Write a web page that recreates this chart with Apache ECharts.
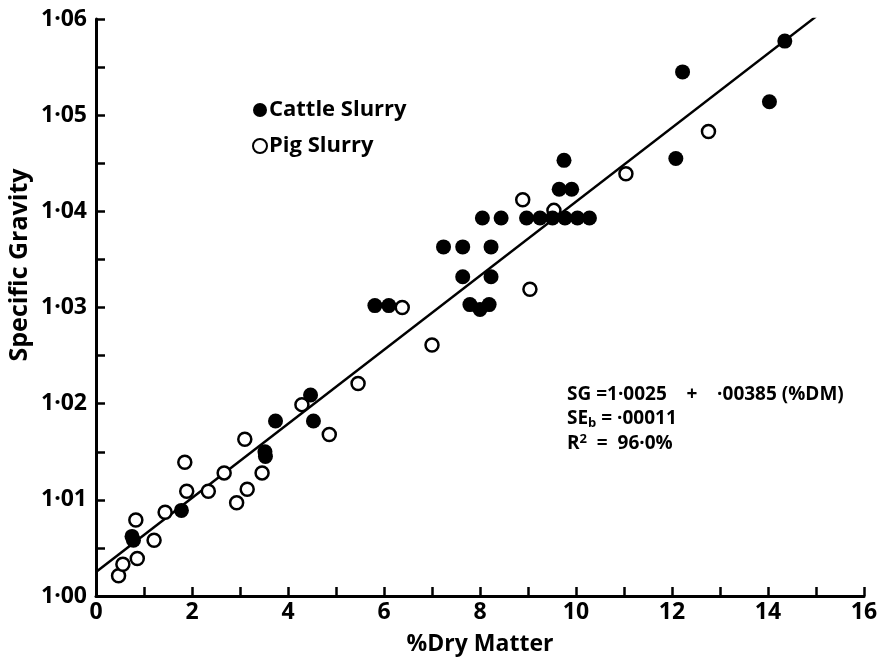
<!DOCTYPE html>
<html><head><meta charset="utf-8">
<script src="https://cdn.jsdelivr.net/npm/echarts@6/dist/echarts.min.js"></script>
<style>html,body{margin:0;padding:0;background:#fff}#c{width:885px;height:661px}</style>
</head><body><div id="c"></div>
<script>
// Cattle slurry (filled circles)
const cattleX = [0.75, 0.78, 1.78, 3.52, 3.53, 3.74, 4.47, 4.53, 5.81, 6.10, 7.24, 7.64, 8.23, 8.05, 8.44, 7.64, 8.23, 7.79, 8.00, 8.19, 8.97, 9.25, 9.51, 9.77, 10.03, 10.28, 9.65, 9.91, 9.75, 12.08, 12.22, 14.03, 14.35];
const cattleY = [1.0062, 1.0058, 1.0089, 1.0150, 1.0145, 1.0182, 1.0209, 1.0182, 1.0302, 1.0302, 1.0363, 1.0363, 1.0363, 1.0393, 1.0393, 1.0332, 1.0332, 1.0303, 1.0298, 1.0303, 1.0393, 1.0393, 1.0393, 1.0393, 1.0393, 1.0393, 1.0423, 1.0423, 1.0453, 1.0455, 1.0545, 1.0514, 1.0577];
// Pig slurry (open circles)
const pigX = [0.47, 0.56, 0.86, 0.83, 1.21, 1.44, 1.85, 1.89, 2.34, 2.67, 2.93, 3.15, 3.10, 3.46, 4.29, 4.86, 5.46, 6.38, 7.00, 8.89, 9.04, 9.54, 11.04, 12.76];
const pigY = [1.0021, 1.0033, 1.0039, 1.0079, 1.0058, 1.0087, 1.0139, 1.0109, 1.0109, 1.0128, 1.0097, 1.0111, 1.0163, 1.0128, 1.0199, 1.0168, 1.0221, 1.0300, 1.0261, 1.0412, 1.0319, 1.0401, 1.0439, 1.0483];
// Regression line endpoints
const fitX = [0, 15];
const fitY = [1.0025, 1.06025];
// Axis ticks
const xTicks = [0, 2, 4, 6, 8, 10, 12, 14, 16];
const yTicks = ['1·00', '1·01', '1·02', '1·03', '1·04', '1·05', '1·06'];

const FONT = 'Open Sans';
const zip = (a, b) => a.map((v, i) => [v, b[i]]);
const chart = echarts.init(document.getElementById('c'), null, {renderer: 'canvas'});
chart.setOption({
  backgroundColor: '#fff',
  animation: false,
  grid: {left: 96, right: 21, top: 19, bottom: 61, containLabel: false},
  legend: {
    orient: 'vertical', left: 247, top: 93, itemGap: 12,
    itemWidth: 14, itemHeight: 14,
    textStyle: {fontFamily: FONT, fontWeight: 'bold', fontSize: 22, color: '#000', lineHeight: 24, padding: [0, 0, 0, -3]},
    data: ['Cattle Slurry', 'Pig Slurry']
  },
  xAxis: {
    type: 'value', min: 0, max: 16, interval: 1,
    name: '%Dry Matter', nameLocation: 'middle', nameGap: 37,
    nameTextStyle: {fontFamily: FONT, fontWeight: 'bold', fontSize: 23, color: '#000'},
    axisLine: {onZero: false, lineStyle: {color: '#000', width: 3}},
    axisTick: {inside: true, length: 9, lineStyle: {color: '#000', width: 2.5}},
    axisLabel: {margin: 5, fontFamily: FONT, fontWeight: 'bold', fontSize: 23, color: '#000',
      formatter: v => xTicks.indexOf(v) >= 0 ? String(v) : ''},
    splitLine: {show: false}
  },
  yAxis: {
    type: 'value', min: 1.00, max: 1.06, interval: 0.005,
    axisLine: {onZero: false, lineStyle: {color: '#000', width: 3}},
    axisTick: {inside: true, length: 9, lineStyle: {color: '#000', width: 2.5}},
    axisLabel: {margin: 9, fontFamily: FONT, fontWeight: 'bold', fontSize: 23, color: '#000',
      formatter: v => {
        const k = Math.round((v - 1) * 1000);
        return k % 10 === 0 ? yTicks[k / 10] : '';
      }},
    splitLine: {show: false}
  },
  graphic: [
    {type: 'text', x: 20, y: 265, rotation: Math.PI / 2,
      style: {text: 'Specific Gravity', fontFamily: FONT, fontWeight: 'bold', fontSize: 25, fill: '#000',
        align: 'center', verticalAlign: 'middle', textAlign: 'center', textVerticalAlign: 'middle'}},
    {type: 'text', left: 567, top: 385,
      style: {
        text: '{a|SG =1·0025    +    ·00385 (%DM)}\n{a|SE}{s|b}{a| = ·00011}\n{a|R}{p|2}{a|  =  96·0%}',
        rich: {
          a: {fontFamily: FONT, fontWeight: 'bold', fontSize: 19, fill: '#000', lineHeight: 24.5},
          s: {fontFamily: FONT, fontWeight: 'bold', fontSize: 13, fill: '#000', lineHeight: 24.5, padding: [8, 0, 0, 0]},
          p: {fontFamily: FONT, fontWeight: 'bold', fontSize: 13, fill: '#000', lineHeight: 24.5, padding: [0, 0, 8, 0]}
        }
      }}
  ],
  series: [
    {name: 'Fit', type: 'line', data: zip(fitX, fitY), symbol: 'none', silent: true,
      lineStyle: {color: '#000', width: 2.5}, z: 1},
    {name: 'Cattle Slurry', type: 'scatter', data: zip(cattleX, cattleY), symbol: 'circle', symbolSize: 15,
      itemStyle: {color: '#000', opacity: 1}, z: 3},
    {name: 'Pig Slurry', type: 'scatter', data: zip(pigX, pigY), symbol: 'circle', symbolSize: 13,
      itemStyle: {color: '#fff', borderColor: '#000', borderWidth: 2.5, opacity: 1}, z: 2}
  ]
});
</script></body></html>
